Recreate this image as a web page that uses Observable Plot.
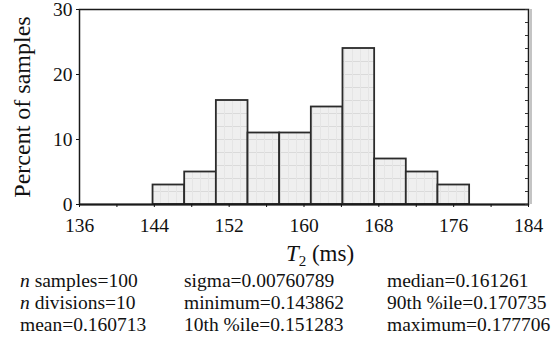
<!DOCTYPE html>
<html>
<head>
<meta charset="utf-8">
<script src="https://cdn.jsdelivr.net/npm/d3@7"></script>
<script src="https://cdn.jsdelivr.net/npm/@observablehq/plot@0.6"></script>
<style>
  body { margin: 0; background: #fff; }
  #chart svg { display: block; }
  #chart svg text { font-family: "Liberation Serif", "Times New Roman", "DejaVu Serif", serif; }
  #stats { position: relative; height: 66px; font-family: "Liberation Serif", "Times New Roman", "DejaVu Serif", serif; font-size: 19.5px; line-height: 22px; color: #111; }
  #stats .col { position: absolute; top: 0; white-space: nowrap; }
</style>
</head>
<body>
<div id="chart"></div>
<div id="stats"></div>
<script>
// ---- data ----
const binEdges = [143.862, 147.246, 150.631, 154.015, 157.400, 160.784, 164.168, 167.553, 170.937, 174.322, 177.706];
const binPercents = [3, 5, 16, 11, 11, 15, 24, 7, 5, 3];
const xTicks = [136, 140, 144, 148, 152, 156, 160, 164, 168, 172, 176, 180, 184];
const xLabels = [136, 144, 152, 160, 168, 176, 184];
const yTicks = [0, 10, 20, 30];
const yMinorTicks = [0, 2, 4, 6, 8, 10, 12, 14, 16, 18, 20, 22, 24, 26, 28, 30];
const yLabel = "Percent of samples";
const xLabelText = "T2 (ms)";
const statNames = ["n samples", "n divisions", "mean", "sigma", "minimum", "10th %ile", "median", "90th %ile", "maximum"];
const statValues = ["100", "10", "0.160713", "0.00760789", "0.143862", "0.151283", "0.161261", "0.170735", "0.177706"];

const bins = binPercents.map((p, i) => ({x1: binEdges[i], x2: binEdges[i + 1], pct: p}));

const svg = Plot.plot({
  width: 555,
  height: 270,
  marginLeft: 79,
  marginRight: 27,
  marginTop: 9,
  marginBottom: 66,
  style: {fontFamily: "'Liberation Serif', 'Times New Roman', serif", fontSize: "19.5px", color: "#111", background: "#fff"},
  x: {domain: [136, 184]},
  y: {domain: [0, 30]},
  marks: [
    Plot.ruleX([184], {dx: 2.5, stroke: "#c4c4c4", strokeWidth: 2}),
    Plot.rectY(bins, {x1: "x1", x2: "x2", y: "pct", fill: "url(#barfill)", stroke: "#2b2b2b", strokeWidth: 1.8}),
    Plot.frame({stroke: "#1a1a1a", strokeWidth: 1.5}),
    Plot.ruleY([0], {stroke: "#1a1a1a", strokeWidth: 2}),
    Plot.ruleY(yMinorTicks, {x1: 183.68, x2: 184, stroke: "#333", strokeWidth: 1}),
    Plot.axisX({ticks: xTicks, tickSize: 3, tickPadding: 10.5, tickFormat: d => xLabels.includes(d) ? String(d) : "", label: null, fontSize: 19.5}),
    Plot.axisY({ticks: yTicks, tickSize: 3, tickPadding: 4, label: null, fontSize: 19.5}),
    Plot.text([yLabel], {frameAnchor: "left", dx: -57, rotate: -90, text: d => d, fontSize: 24, textAnchor: "middle", lineAnchor: "middle"}),
    Plot.text([xLabelText], {frameAnchor: "bottom", dx: 16, dy: 56, text: d => d, fontSize: 23, textAnchor: "middle", lineAnchor: "bottom"})
  ]
});

// bar fill pattern (light gray with faint grid)
d3.select(svg).insert("defs", ":first-child").html(
  `<pattern id="barfill" patternUnits="userSpaceOnUse" x="0" y="9" width="8" height="13">
     <rect width="8" height="13" fill="#efefef"></rect>
     <line x1="0" x2="8" y1="0.5" y2="0.5" stroke="#dadada" stroke-width="1"></line>
     <line x1="0.5" x2="0.5" y1="0" y2="13" stroke="#e5e5e5" stroke-width="1"></line>
   </pattern>`
);

// axis title with italic T and subscript 2
d3.select(svg).selectAll("text").filter(function () { return this.textContent === xLabelText; }).each(function () {
  const t = d3.select(this);
  const raw = xLabelText;
  t.selectAll("*").remove();
  t.text(null);
  t.append("tspan").attr("font-style", "italic").text(raw.charAt(0));
  t.append("tspan").attr("font-size", 15).attr("dy", 5).text(raw.charAt(1));
  t.append("tspan").attr("dy", -5).text(raw.slice(2));
});

document.getElementById("chart").appendChild(svg);

// statistics block
const colLefts = [20, 184, 387];
const stats = d3.select("#stats");
for (let c = 0; c < 3; c++) {
  const col = stats.append("div").attr("class", "col").style("left", colLefts[c] + "px");
  for (let r = 0; r < 3; r++) {
    const i = c * 3 + r;
    const line = col.append("div");
    const name = statNames[i];
    if (name.startsWith("n ")) {
      line.append("i").text("n");
      line.append("span").text(name.slice(1) + "=" + statValues[i]);
    } else {
      line.append("span").text(name + "=" + statValues[i]);
    }
  }
}
</script>
</body>
</html>
